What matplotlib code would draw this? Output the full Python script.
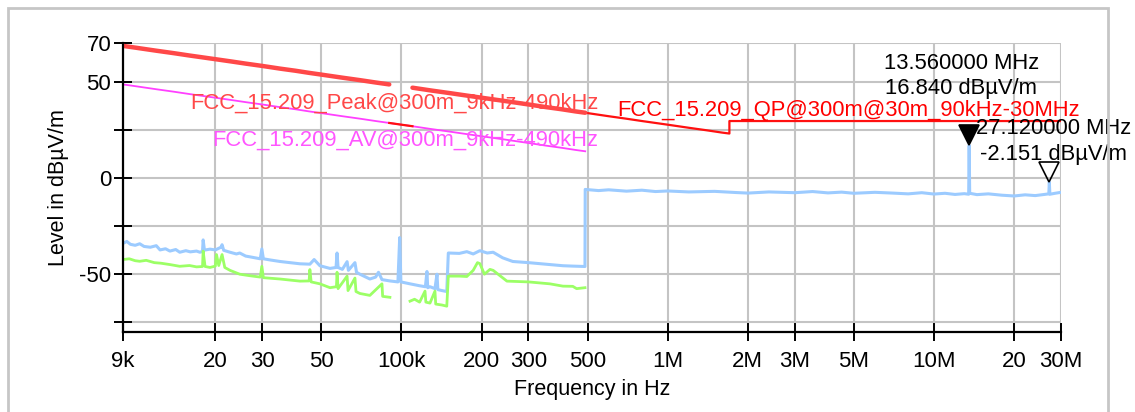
import matplotlib
matplotlib.use('Agg')

import numpy as np
import matplotlib.pyplot as plt
from matplotlib.patches import Rectangle
from matplotlib.transforms import offset_copy

plt.rcParams['font.family'] = ['Liberation Sans', 'DejaVu Sans']

# ---- limit lines (kHz, dBuV/m) ----
peak_f = [9, 10, 12, 14, 16, 18, 20, 23, 26, 30, 35, 40, 45, 50, 60, 70, 80, 90, np.nan,
          110, 130, 150, 200, 250, 300, 350, 400, 450, 490]
peak_l = [68.5, 67.6, 66.0, 64.7, 63.5, 62.5, 61.6, 60.4, 59.3, 58.1, 56.7, 55.6, 54.5, 53.6,
          52.0, 50.7, 49.5, 48.5, np.nan,
          46.8, 45.3, 44.1, 41.6, 39.7, 38.1, 36.7, 35.6, 34.5, 33.8]

av_f = [9, 10, 12, 14, 16, 18, 20, 23, 26, 30, 35, 40, 45, 50, 60, 70, 80, 90,
        110, 130, 150, 200, 250, 300, 350, 400, 450, 490]
av_l = [48.5, 47.6, 46.0, 44.7, 43.5, 42.5, 41.6, 40.4, 39.3, 38.1, 36.7, 35.6, 34.5, 33.6,
        32.0, 30.7, 29.5, 28.5,
        26.8, 25.3, 24.1, 21.6, 19.7, 18.1, 16.7, 15.6, 14.5, 13.8]

qp_f = [90, 100, 110, np.nan, 490, 600, 700, 800, 1000, 1200, 1400, 1600, 1705, 1705, 30000]
qp_l = [28.5, 27.6, 26.8, np.nan, 33.8, 32.0, 30.7, 29.5, 27.6, 26.0, 24.7, 23.5, 23.0, 29.5, 29.5]

# ---- measured traces (kHz, dBuV/m) ----
blue_f = [9.0, 9.3, 9.6, 10.0, 10.4, 10.8, 11.4, 12.0, 12.4, 13.0, 13.5, 14.2, 14.7, 15.5,
          16.1, 17.0, 17.5, 17.9, 18.0, 18.2, 19.1, 20.0, 21.0, 21.2, 21.5, 22.7, 24.0, 24.7,
          26.0, 27.0, 29.5, 29.9, 30.3, 32.1, 35.0, 38.1, 41.6, 45.3, 47.0, 49.4, 53.9, 56.8,
          57.3, 57.8, 60.0, 62.5, 63.2, 66.9, 67.8, 69.8, 76.1, 80.0, 82.0, 84.5, 90.5, 97.0,
          98.5, 99.5, 107.7, 117.0, 123.0, 124.7, 125.5, 128.0, 133.6, 136.0, 137.0, 142.0,
          148.0, 150.0, 165.0, 176.0, 186.0, 197.0, 210.0, 221.0, 240.0, 262.0, 300.0, 361.0,
          404.0, 440.0, 489.0, 490.0, 550, 600, 700, 800, 900, 1000, 1200, 1500, 1800, 2000,
          2400, 3000, 3500, 4000, 4500, 5000, 6000, 7000, 8000, 9000, 10000, 11000, 12000,
          13000, 13500, 13560, 13620, 14500, 16000, 18000, 20000, 22000, 24000, 26000, 27000,
          27120, 27250, 28500, 30000]
blue_l = [-34.0, -33.0, -34.5, -35.0, -34.2, -35.6, -36.0, -35.2, -37.4, -36.8, -38.0, -37.2,
          -38.6, -37.8, -38.4, -38.0, -38.6, -38.2, -32.2, -37.5, -37.0, -37.4, -36.0, -34.7,
          -37.6, -38.6, -39.5, -39.0, -40.6, -41.0, -42.0, -36.9, -42.0, -42.6, -43.4, -44.0,
          -44.6, -44.8, -42.4, -45.6, -47.0, -46.5, -39.0, -46.5, -47.5, -43.5, -48.0, -44.0,
          -49.0, -50.0, -52.5, -51.5, -49.0, -52.8, -53.5, -54.0, -31.0, -54.0, -55.0, -56.0,
          -56.5, -48.6, -57.0, -56.5, -57.5, -50.0, -58.0, -58.5, -59.0, -39.0, -39.2, -38.3,
          -39.5, -37.8, -39.0, -38.6, -41.5, -43.4, -44.0, -45.0, -45.6, -45.8, -46.0, -6.0,
          -6.6, -6.2, -6.9, -6.4, -7.1, -6.8, -7.3, -7.0, -7.6, -7.9, -7.3, -7.7, -7.1, -7.8,
          -7.4, -8.0, -7.5, -7.9, -8.3, -7.7, -8.4, -8.0, -8.6, -8.2, -8.5, 16.84, -8.0, -8.7,
          -8.3, -9.0, -9.4, -8.8, -9.2, -8.6, -8.3, -2.151, -8.5, -8.0, -7.5]

green_f = [9.0, 9.5, 10.0, 10.4, 11.0, 11.8, 12.5, 13.5, 14.7, 16.0, 17.0, 17.9, 18.0, 18.3,
           19.1, 20.0, 20.2, 20.6, 21.2, 21.7, 22.7, 24.7, 27.0, 29.5, 29.9, 30.3, 35.0, 41.6,
           45.0, 45.3, 45.8, 49.4, 53.9, 57.0, 57.3, 57.8, 62.5, 63.0, 66.9, 67.5, 69.8, 76.1,
           84.5, 85.0, 90.5, np.nan, 107.7, 112.0, 117.0, 122.6, 123.5, 128.0, 133.6, 134.5,
           142.0, 148.0, 150.0, 165.0, 176.0, 186.0, 193.0, 197.0, 205.0, 215.0, 221.0, 249.0,
           300.0, 361.0, 404.0, 440.0, 455.0, 489.0]
green_l = [-42.4, -42.0, -43.0, -43.3, -42.8, -44.0, -44.3, -45.0, -45.9, -45.5, -46.2, -46.0,
           -38.0, -46.0, -46.5, -45.8, -39.8, -45.5, -39.8, -46.5, -48.0, -50.0, -50.8, -51.5,
           -45.9, -51.8, -52.5, -53.6, -53.5, -47.6, -54.0, -55.0, -57.0, -56.5, -49.0, -57.5,
           -51.0, -58.5, -52.0, -59.0, -60.0, -61.0, -55.0, -61.5, -62.0, np.nan, -64.0, -63.0,
           -64.5, -58.8, -64.5, -65.0, -58.8, -65.5, -66.0, -66.6, -51.0, -51.0, -51.2, -48.0,
           -44.0, -44.5, -50.0, -47.5, -48.0, -53.6, -54.0, -55.0, -56.2, -56.3, -57.5, -57.0]

markers = [(13560, 16.84, 'full', '13.560000 MHz', '16.840 dBµV/m'),
           (27120, -2.151, 'none', '27.120000 MHz', '-2.151 dBµV/m')]

x_ticks = [9e3, 20e3, 30e3, 50e3, 100e3, 200e3, 300e3, 500e3, 1e6, 2e6, 3e6, 5e6, 10e6, 20e6, 30e6]
x_labels = ['9k', '20', '30', '50', '100k', '200', '300', '500', '1M', '2M', '3M', '5M', '10M', '20', '30M']
y_ticks = [70, 50, 25, 0, -25, -50, -75]
y_labels = ['70', '50', '', '0', '', '-50', '']

khz = lambda v: np.array(v, dtype=float) * 1e3

fig = plt.figure(figsize=(11.35, 4.12), dpi=100)
ax = fig.add_axes([123 / 1135, 80 / 412, (1061 - 123) / 1135, (332 - 43) / 412])

fig.patches.append(Rectangle((8 / 1135, -0.1), 1100 / 1135, 1.1 - 8 / 412, transform=fig.transFigure,
                             fill=False, edgecolor='#c6c6c6', linewidth=2))

ax.plot(khz(blue_f), blue_l, color='#9ccbff', linewidth=2.2)
ax.plot(khz(green_f), green_l, color='#9cff66', linewidth=2.0)
ax.plot(khz(av_f), av_l, color='#ff40ff', linewidth=1.3)
ax.plot(khz(qp_f), qp_l, color='#ff1010', linewidth=1.6)
ax.plot(khz(peak_f), peak_l, color='#ff4848', linewidth=3.2, solid_capstyle='round')

ax.text(16.1e3, 38.8, 'FCC_15.209_Peak@300m_9kHz-490kHz', color='#ff4848', fontsize=15.8, va='center')
ax.text(19.4e3, 19.7, 'FCC_15.209_AV@300m_9kHz-490kHz', color='#ff55ff', fontsize=15.8, va='center')
ax.text(645e3, 35.2, 'FCC_15.209_QP@300m@30m_90kHz-30MHz', color='#ff0000', fontsize=15.8, va='center')

ms = 15
for f, lvl, fill, l1, l2 in markers:
    tr = offset_copy(ax.transData, fig=fig, y=ms / 2, units='points')
    ax.plot([f * 1e3], [lvl], marker='v', markersize=ms, color='black', fillstyle=fill,
            markeredgewidth=1.2, transform=tr, linestyle='none', clip_on=False)
    dx = -8 if fill == 'full' else 4
    ax.annotate(l1, (f * 1e3, lvl), xytext=(dx, 82 if fill == 'full' else 54), textcoords='offset pixels',
                ha='center', va='center', fontsize=15.8)
    ax.annotate(l2, (f * 1e3, lvl), xytext=(dx, 57 if fill == 'full' else 28), textcoords='offset pixels',
                ha='center', va='center', fontsize=15.8)

ax.set_xscale('log')
ax.set_xlim(9e3, 30e6)
ax.set_ylim(-80, 70)
ax.set_xticks(x_ticks)
ax.set_xticklabels(x_labels)
ax.xaxis.set_minor_locator(matplotlib.ticker.NullLocator())
ax.set_yticks(y_ticks)
ax.set_yticklabels(y_labels)

ax.grid(True, color='#c4c4c4', linewidth=1.5)
ax.set_axisbelow(True)
for s in ['top', 'right']:
    ax.spines[s].set_visible(False)
for s in ['left', 'bottom']:
    ax.spines[s].set_linewidth(1.6)
ax.tick_params(direction='inout', length=13, width=1.4, labelsize=16)
ax.tick_params(axis='x', pad=7)
ax.tick_params(axis='y', pad=2)

ax.set_xlabel('Frequency in Hz', fontsize=15.5, labelpad=5)
ax.set_ylabel('Level in dBµV/m', fontsize=15.5, labelpad=7)

fig.savefig('out.png', dpi=100)
